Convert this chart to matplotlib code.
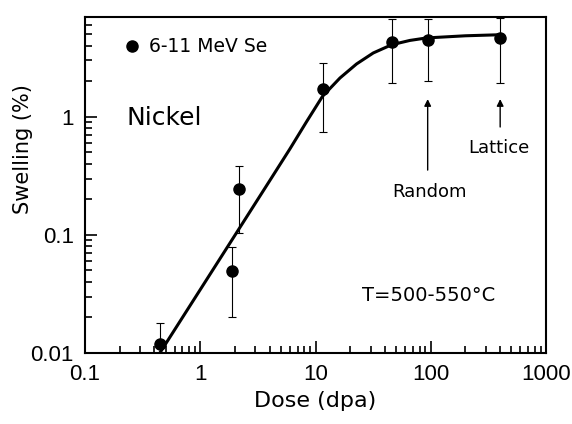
import matplotlib
matplotlib.use("Agg")
import matplotlib.pyplot as plt
from matplotlib.ticker import LogLocator, NullFormatter, FixedLocator, FixedFormatter

# measured points (6-11 MeV Se on nickel)
dose = [0.45, 1.9, 2.17, 11.5, 45.7, 94, 400]
swell = [0.0118, 0.049, 0.244, 1.72, 4.32, 4.43, 4.64]
err_lo = [0.006, 0.020, 0.103, 0.75, 1.93, 2.02, 1.95]
err_hi = [0.018, 0.079, 0.38, 2.83, 6.7, 6.77, 6.8]

# fitted curve
fit_dose = [0.44, 1.0, 2.0, 4.0, 6.0, 8.37, 11.5, 16.3, 22.7, 31.7, 45.7,
            65.9, 91.8, 200, 400]
fit_swell = [0.0098, 0.0344, 0.0993, 0.287, 0.535, 0.91, 1.49, 2.13, 2.80,
             3.47, 4.07, 4.43, 4.65, 4.85, 4.95]

xticks = [0.1, 1, 10, 100, 1000]
xticklabels = ["0.1", "1", "10", "100", "1000"]
yticks = [0.01, 0.1, 1]
yticklabels = ["0.01", "0.1", "1"]

plt.rcParams['font.family'] = ['DejaVu Sans']

fig = plt.figure(figsize=(5.72, 4.24), dpi=100)
ax = fig.add_axes([0.1486, 0.1675, 0.806, 0.7925])

lo = [s - l for s, l in zip(swell, err_lo)]
hi = [h - s for s, h in zip(swell, err_hi)]
ax.errorbar(dose, swell, yerr=[lo, hi], fmt='none', ecolor='black',
            elinewidth=0.8, capsize=3, capthick=0.8)
ax.plot(dose, swell, 'o', color='black', markersize=8, label='6-11 MeV Se')
ax.plot(fit_dose, fit_swell, '-', color='black', linewidth=2.2)

ax.set_xscale('log')
ax.set_yscale('log')
ax.set_xlim(0.1, 1000)
ax.set_ylim(0.01, 7)

ax.xaxis.set_major_locator(FixedLocator(xticks))
ax.xaxis.set_major_formatter(FixedFormatter(xticklabels))
ax.yaxis.set_major_locator(FixedLocator(yticks))
ax.yaxis.set_major_formatter(FixedFormatter(yticklabels))
ax.xaxis.set_minor_locator(LogLocator(base=10, subs=range(2, 10)))
ax.yaxis.set_minor_locator(LogLocator(base=10, subs=range(2, 10)))
ax.xaxis.set_minor_formatter(NullFormatter())
ax.yaxis.set_minor_formatter(NullFormatter())

ax.tick_params(which='both', direction='in', top=False, right=False, width=1.2)
ax.tick_params(which='major', length=8.5, labelsize=16, pad=8)
ax.tick_params(which='minor', length=5)
for lab in ax.get_xticklabels() + ax.get_yticklabels():
    lab.set_family('Liberation Sans')
for s in ax.spines.values():
    s.set_linewidth(1.5)

ax.set_xlabel('Dose (dpa)', fontsize=16, labelpad=4)
ax.set_ylabel('Swelling (%)', fontsize=15)
ax.yaxis.set_label_coords(-0.113, 0.607)

ax.legend(loc='upper left', bbox_to_anchor=(0.05, 0.99), frameon=False,
          fontsize=13.5, handlelength=0.8, handletextpad=0.5)

ax.text(0.09, 0.7, 'Nickel', transform=ax.transAxes, fontsize=18,
        va='center', ha='left')
ax.text(0.6, 0.17, 'T=500-550\u00b0C', transform=ax.transAxes, fontsize=14,
        va='center', ha='left')

ax.annotate('', xy=(94, 1.49), xytext=(94, 0.335),
            arrowprops=dict(arrowstyle='-|>', color='black', lw=1.0,
                            mutation_scale=10))
ax.text(97, 0.23, 'Random', fontsize=13, ha='center', va='center')
ax.annotate('', xy=(400, 1.49), xytext=(400, 0.776),
            arrowprops=dict(arrowstyle='-|>', color='black', lw=1.0,
                            mutation_scale=10))
ax.text(390, 0.546, 'Lattice', fontsize=13, ha='center', va='center')

fig.savefig('out.png', dpi=100)
